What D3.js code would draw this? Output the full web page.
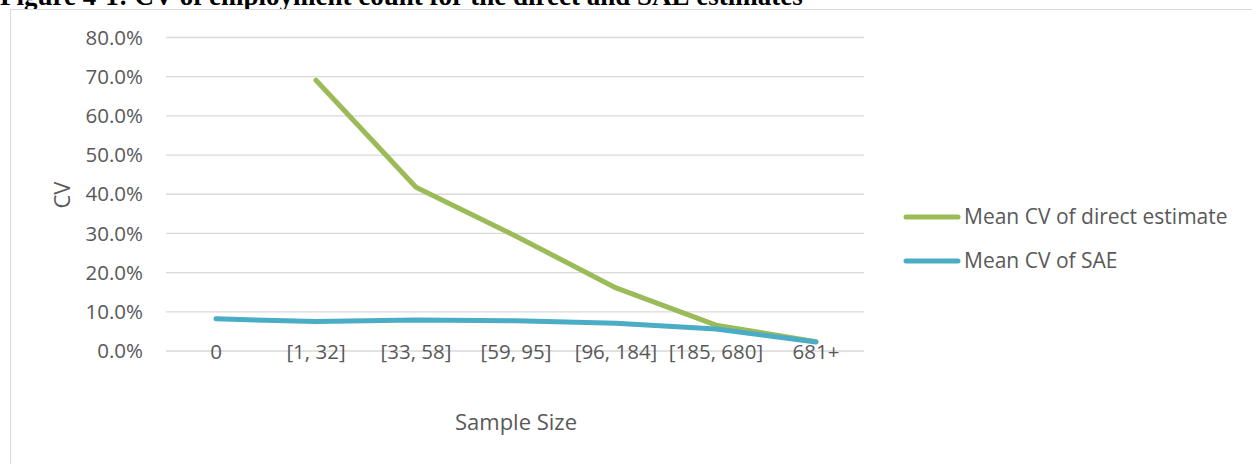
<!DOCTYPE html>
<html><head><meta charset="utf-8">
<script src="https://cdn.jsdelivr.net/npm/d3@7"></script>
<style>body{margin:0;background:#fff;}svg{display:block;}</style>
</head><body>
<svg id="c" width="1252" height="464"></svg>
<script>
const categories = ["0", "[1, 32]", "[33, 58]", "[59, 95]", "[96, 184]", "[185, 680]", "681+"];
const directCV = [null, 0.691, 0.418, 0.293, 0.161, 0.066, 0.024];
const saeCV = [0.082, 0.075, 0.079, 0.077, 0.071, 0.056, 0.023];
const yTicks = [0, 0.1, 0.2, 0.3, 0.4, 0.5, 0.6, 0.7, 0.8];
const seriesNames = ["Mean CV of direct estimate", "Mean CV of SAE"];
const colors = ["#9BBB59", "#4BACC6"];
const titleText = "Figure 4-1: CV of employment count for the direct and SAE estimates";

const svg = d3.select("#c");
const font = "'Open Sans', sans-serif";
const txt = "#595959";

svg.append("text").attr("x", 0).attr("y", 5)
  .attr("font-family", "'Liberation Serif', 'Times New Roman', serif")
  .attr("font-weight", "bold").attr("font-size", 27).attr("fill", "#000")
  .text(titleText);

svg.append("rect").attr("x", 10.5).attr("y", 9.5).attr("width", 1300).attr("height", 600)
  .attr("fill", "#fff").attr("stroke", "#d9d9d9").attr("stroke-width", 1);

const x = d3.scaleBand().domain(categories).range([166, 866]);
const y = d3.scaleLinear().domain([0, 0.8]).range([351, 37.5]);

const g = svg.append("g");
g.selectAll("line.grid").data(yTicks).join("line")
  .attr("x1", 166).attr("x2", 864)
  .attr("y1", d => y(d)).attr("y2", d => y(d))
  .attr("stroke", "#d9d9d9").attr("stroke-width", 1.3);

const yAxis = d3.axisLeft(y).tickValues(yTicks).tickFormat(d3.format(".1%")).tickSize(0).tickPadding(0);
const ya = svg.append("g").attr("transform", "translate(143,0)").call(yAxis);
ya.select(".domain").remove();
ya.selectAll("text").attr("font-family", font).attr("font-size", 20.5).attr("fill", txt);

const xAxis = d3.axisBottom(x).tickSize(0).tickPadding(0);
const xa = svg.append("g").attr("transform", "translate(0,344)").call(xAxis);
xa.select(".domain").remove();
xa.selectAll("text").attr("font-family", font).attr("font-size", 20.5).attr("fill", txt);

svg.append("text").attr("x", 516).attr("y", 430).attr("text-anchor", "middle")
  .attr("font-family", font).attr("font-size", 22).attr("fill", txt).text("Sample Size");
svg.append("text").attr("transform", "translate(70,195) rotate(-90)").attr("text-anchor", "middle")
  .attr("font-family", font).attr("font-size", 22).attr("fill", txt).text("CV");

const line = d3.line().defined(d => d.v != null)
  .x(d => x(d.c) + x.bandwidth() / 2).y(d => y(d.v));

[directCV, saeCV].forEach((vals, i) => {
  svg.append("path").datum(categories.map((c, j) => ({c, v: vals[j]})))
    .attr("d", line).attr("fill", "none").attr("stroke", colors[i])
    .attr("stroke-width", 5).attr("stroke-linecap", "round").attr("stroke-linejoin", "round");
});

const leg = svg.append("g");
seriesNames.forEach((n, i) => {
  const ly = 217 + i * 44;
  leg.append("line").attr("x1", 906).attr("x2", 958).attr("y1", ly).attr("y2", ly)
    .attr("stroke", colors[i]).attr("stroke-width", 5).attr("stroke-linecap", "round");
  leg.append("text").attr("x", 964).attr("y", ly + 7).attr("font-family", font)
    .attr("font-size", 21).attr("fill", txt).text(n);
});
</script>
</body></html>
